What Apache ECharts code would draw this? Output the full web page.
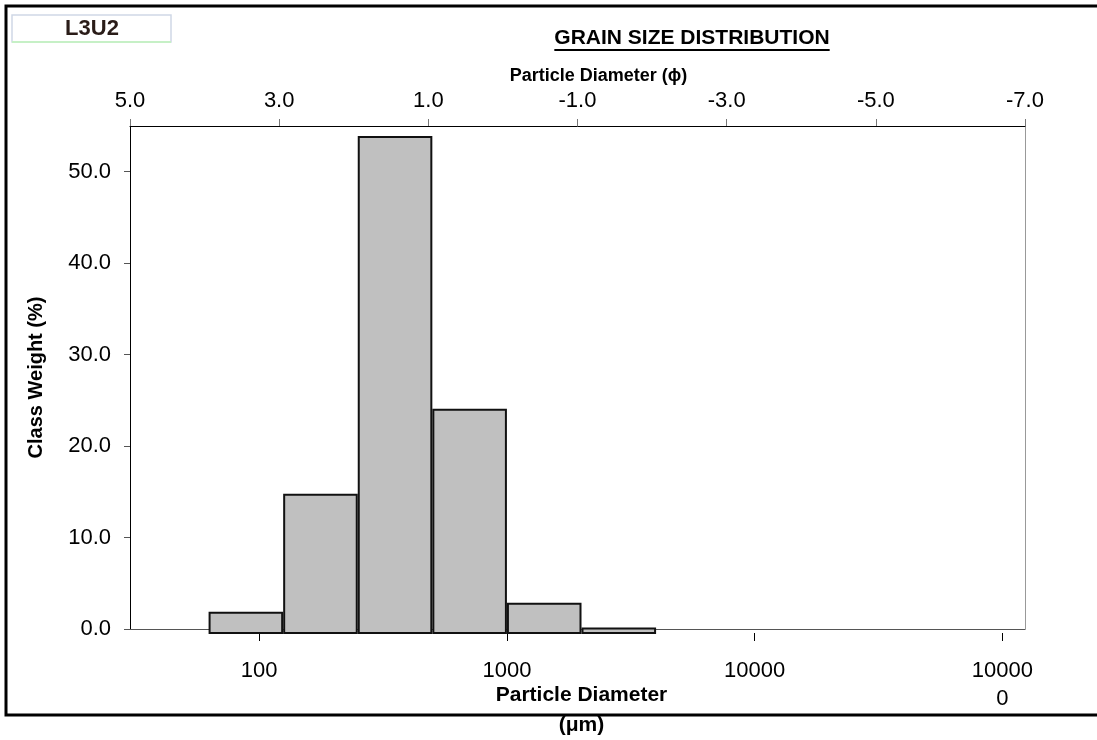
<!DOCTYPE html>
<html>
<head>
<meta charset="utf-8">
<title>Grain Size Distribution</title>
<script src="https://cdn.jsdelivr.net/npm/echarts@6/dist/echarts.min.js"></script>
<style>
  html, body { margin: 0; padding: 0; background: #fff; }
  #chart { width: 1097px; height: 740px; }
</style>
</head>
<body>
<div id="chart"></div>
<script>
// Sieve classes (one phi wide), given by their edges in micrometres
const BIN_EDGES_UM = [62.5, 125, 250, 500, 1000, 2000, 4000];
// Percentage of the sample retained in each class
const CLASS_WEIGHT = [1.8, 14.7, 53.8, 24.0, 2.8, 0.1];
// Axis ticks
const PHI_TICKS = [5, 3, 1, -1, -3, -5, -7];
const UM_TICKS = [100, 1000, 10000, 100000];
const WEIGHT_TICKS = [0, 10, 20, 30, 40, 50];
const PHI_RANGE = [-7, 5];
const WEIGHT_MAX = 55;
const SAMPLE_ID = 'L3U2';

const FONT = "'Liberation Sans', Arial, sans-serif";
const log10 = Math.log10;
// phi = -log2(d / 1 mm)  ->  log10(d in um) = 3 - phi * log10(2)
const phiToLogUm = p => 3 - p * log10(2);
const UM_LOG_MIN = phiToLogUm(PHI_RANGE[1]);
const UM_LOG_MAX = phiToLogUm(PHI_RANGE[0]);
const BAR_BASE = -0.4;

const barData = CLASS_WEIGHT.map((w, i) => [log10(BIN_EDGES_UM[i]), log10(BIN_EDGES_UM[i + 1]), w]);

// underline width for the heading
const TITLE = 'GRAIN SIZE DISTRIBUTION';
const TITLE_FONT = 'bold 21px ' + FONT;
const measureCtx = document.createElement('canvas').getContext('2d');
measureCtx.font = TITLE_FONT;
const titleW = measureCtx.measureText(TITLE).width;
const TITLE_X = 692, TITLE_Y = 38;

const chart = echarts.init(document.getElementById('chart'), null, { renderer: 'canvas' });

const labelStyle = { color: '#000', fontFamily: FONT, fontSize: 22 };
const nameStyle = { color: '#000', fontFamily: FONT, fontSize: 20, fontWeight: 'bold' };

chart.setOption({
  animation: false,
  backgroundColor: '#fff',
  grid: [
    { left: 130, right: 72, top: 126, bottom: 111, containLabel: false, outerBoundsMode: 'none' },
    { left: 134, right: 68, top: 126, bottom: 107, containLabel: false, outerBoundsMode: 'none' }
  ],
  xAxis: [
    {
      // phi scale along the top
      gridIndex: 0, type: 'value', position: 'top', inverse: true,
      min: PHI_RANGE[0], max: PHI_RANGE[1],
      name: 'Particle Diameter (\u03d5)', nameLocation: 'middle', nameGap: 38,
      nameTextStyle: Object.assign({}, nameStyle, { fontSize: 18, padding: [0, 0, 0, 42] }),
      axisLine: { show: true, onZero: false, lineStyle: { color: '#000', width: 1 } },
      axisTick: { show: true, inside: false, length: 7, customValues: PHI_TICKS, lineStyle: { color: '#777' } },
      axisLabel: Object.assign({ margin: 14, customValues: PHI_TICKS, formatter: v => v.toFixed(1) }, labelStyle),
      splitLine: { show: false }
    },
    {
      // baseline of the plot frame
      gridIndex: 0, type: 'value', position: 'bottom',
      min: PHI_RANGE[0], max: PHI_RANGE[1],
      axisLine: { show: true, onZero: false, lineStyle: { color: '#555', width: 1 } },
      axisTick: { show: false }, axisLabel: { show: false }, splitLine: { show: false }
    },
    {
      // micrometre scale along the bottom (log10 units)
      gridIndex: 1, type: 'value', position: 'bottom',
      min: UM_LOG_MIN, max: UM_LOG_MAX,
      name: 'Particle Diameter\n(\u03bcm)', nameLocation: 'middle', nameGap: 47,
      nameMoveOverlap: false,
      nameTextStyle: Object.assign({}, nameStyle, { fontSize: 21, lineHeight: 30 }),
      axisLine: { show: false, onZero: false },
      axisTick: { show: true, inside: false, length: 8, customValues: UM_TICKS.map(log10), lineStyle: { color: '#000' } },
      axisLabel: Object.assign({
        margin: 24, customValues: UM_TICKS.map(log10),
        formatter: v => String(Math.round(Math.pow(10, v))),
        width: 66, overflow: 'breakAll', lineHeight: 28, align: 'center'
      }, labelStyle),
      splitLine: { show: false }
    }
  ],
  yAxis: [
    {
      gridIndex: 0, type: 'value', position: 'left', min: 0, max: WEIGHT_MAX,
      name: 'Class Weight (%)', nameLocation: 'middle', nameGap: 84, nameRotate: 90,
      nameTextStyle: nameStyle,
      axisLine: { show: true, onZero: false, lineStyle: { color: '#000', width: 1 } },
      axisTick: { show: true, inside: false, length: 6, customValues: WEIGHT_TICKS, lineStyle: { color: '#555' } },
      axisLabel: Object.assign({ margin: 19, customValues: WEIGHT_TICKS, formatter: v => v.toFixed(1) }, labelStyle),
      splitLine: { show: false }
    },
    {
      gridIndex: 0, type: 'value', position: 'right', min: 0, max: WEIGHT_MAX,
      axisLine: { show: true, onZero: false, lineStyle: { color: '#999', width: 1 } },
      axisTick: { show: false }, axisLabel: { show: false }, splitLine: { show: false }
    },
    {
      // same weight scale for the histogram, extended slightly below zero
      gridIndex: 1, type: 'value', min: BAR_BASE, max: WEIGHT_MAX, show: false,
      axisLine: { onZero: false },
      splitLine: { show: false }
    }
  ],
  series: [
    {
      type: 'custom',
      name: 'Class Weight',
      xAxisIndex: 2, yAxisIndex: 2,
      data: barData,
      encode: { x: [0, 1], y: 2 },
      renderItem: (params, api) => {
        const top = api.coord([api.value(0), api.value(2)]);
        const bottom = api.coord([api.value(1), BAR_BASE]);
        return {
          type: 'rect',
          shape: { x: top[0] + 1, y: top[1], width: bottom[0] - top[0] - 2, height: bottom[1] - top[1] },
          style: { fill: '#c0c0c0', stroke: '#111', lineWidth: 2 }
        };
      }
    }
  ],
  graphic: [
    {
      // outer frame
      type: 'rect', shape: { x: 6, y: 6, width: 1110, height: 709 },
      style: { fill: null, stroke: '#000', lineWidth: 3 }, silent: true, z: 100
    },
    {
      type: 'rect', shape: { x: 12, y: 15, width: 159, height: 27 },
      style: { fill: '#fff', stroke: '#cfd8e6', lineWidth: 1.5 }, silent: true, z: 100
    },
    {
      type: 'line', shape: { x1: 12, y1: 42, x2: 171, y2: 42 },
      style: { stroke: '#c6f0c6', lineWidth: 2 }, silent: true, z: 101
    },
    {
      type: 'text', x: 92, y: 29, z: 102,
      style: { text: SAMPLE_ID, fill: '#2a1c18', font: 'bold 22px ' + FONT, align: 'center', verticalAlign: 'middle' }
    },
    {
      type: 'text', x: TITLE_X, y: TITLE_Y, z: 102,
      style: { text: TITLE, fill: '#000', font: TITLE_FONT, align: 'center', verticalAlign: 'middle' }
    },
    {
      type: 'line', z: 102,
      shape: { x1: TITLE_X - titleW / 2, y1: TITLE_Y + 12, x2: TITLE_X + titleW / 2, y2: TITLE_Y + 12 },
      style: { stroke: '#000', lineWidth: 2 }
    }
  ]
});
</script>
</body>
</html>
